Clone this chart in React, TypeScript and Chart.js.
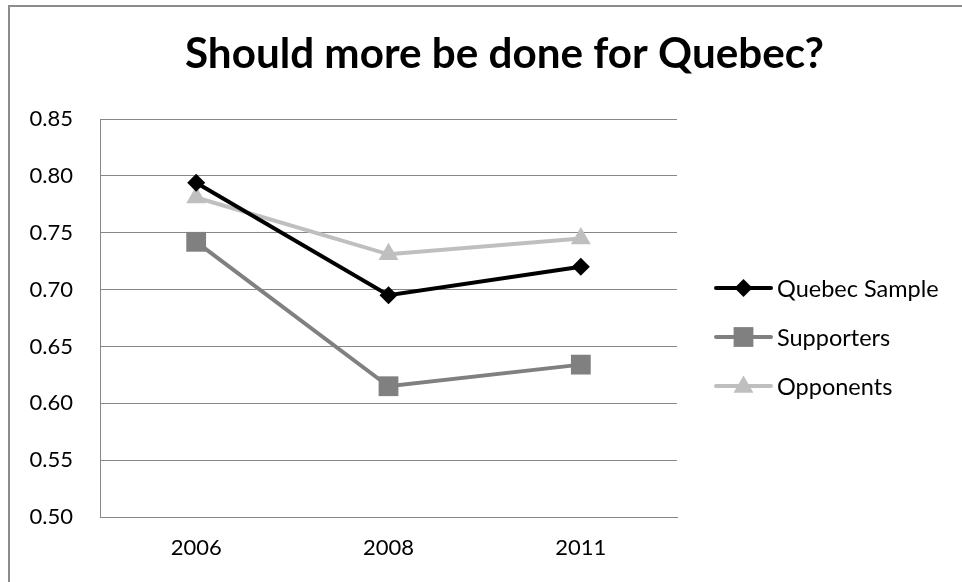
import { useEffect, useRef } from "react";
import { Chart, registerables } from "chart.js";

Chart.register(...registerables);

// Survey years and mean scores per group
const years = ["2006", "2008", "2011"];
const quebecSample = [0.794, 0.695, 0.72];
const supporters = [0.742, 0.615, 0.634];
const opponents = [0.781, 0.731, 0.745];
const seriesNames = ["Quebec Sample", "Supporters", "Opponents"];
const chartTitle = "Should more be done for Quebec?";

const FONT = "Lato, 'Open Sans', sans-serif";
const GRID = "#878787";

type Marker = "rectRot" | "rect" | "triangle";

function drawMarker(ctx: CanvasRenderingContext2D, style: Marker, x: number, y: number, r: number, color: string) {
  ctx.save();
  ctx.fillStyle = color;
  ctx.beginPath();
  if (style === "rectRot") {
    ctx.moveTo(x - r, y);
    ctx.lineTo(x, y - r);
    ctx.lineTo(x + r, y);
    ctx.lineTo(x, y + r);
  } else if (style === "rect") {
    const s = r * Math.SQRT1_2;
    ctx.rect(x - s, y - s, 2 * s, 2 * s);
  } else {
    ctx.moveTo(x, y - r);
    ctx.lineTo(x + r * 0.866, y + r * 0.5);
    ctx.lineTo(x - r * 0.866, y + r * 0.5);
  }
  ctx.closePath();
  ctx.fill();
  ctx.restore();
}

// Frame, title and the right-hand legend drawn on the canvas
const decorations = {
  id: "decorations",
  beforeDraw(chart: any) {
    const ctx = chart.ctx as CanvasRenderingContext2D;
    ctx.save();
    ctx.fillStyle = "#ffffff";
    ctx.fillRect(0, 0, chart.width, chart.height);
    ctx.strokeStyle = "#8c8c8c";
    ctx.lineWidth = 2;
    ctx.beginPath();
    ctx.moveTo(9, chart.height);
    ctx.lineTo(9, 6);
    ctx.lineTo(chart.width, 6);
    ctx.stroke();
    ctx.restore();
  },
  afterDraw(chart: any) {
    const ctx = chart.ctx as CanvasRenderingContext2D;
    const area = chart.chartArea;
    ctx.save();
    // title, sized to span its line
    let size = 36;
    ctx.font = `bold ${size}px ${FONT}`;
    const w = ctx.measureText(chartTitle).width;
    size = (size * 639) / w;
    ctx.font = `bold ${size}px ${FONT}`;
    ctx.fillStyle = "#000";
    ctx.textAlign = "left";
    ctx.textBaseline = "alphabetic";
    ctx.fillText(chartTitle, 185, 68);

    // legend
    const rows = [288, 337, 386];
    ctx.font = `23.5px ${FONT}`;
    ctx.textBaseline = "middle";
    chart.data.datasets.forEach((ds: any, i: number) => {
      const y = rows[i];
      const x0 = area.right + 39;
      const x1 = area.right + 94;
      ctx.strokeStyle = ds.borderColor;
      ctx.lineWidth = 4;
      ctx.lineCap = "round";
      ctx.beginPath();
      ctx.moveTo(x0, y);
      ctx.lineTo(x1, y);
      ctx.stroke();
      drawMarker(ctx, ds.pointStyle, (x0 + x1) / 2, ds.pointStyle === "triangle" ? y + 1 : y, ds.pointRadius, ds.borderColor);
      ctx.fillStyle = "#000";
      ctx.fillText(ds.label, area.right + 100, y + 1);
    });
    ctx.restore();
  },
};

export default function App() {
  const ref = useRef<HTMLCanvasElement | null>(null);

  useEffect(() => {
    if (!ref.current) return;
    const chart = new Chart(ref.current, {
      type: "line",
      data: {
        labels: years,
        datasets: [
          {
            label: seriesNames[0],
            data: quebecSample,
            borderColor: "#000000",
            backgroundColor: "#000000",
            borderWidth: 4,
            pointStyle: "rectRot",
            pointRadius: 9,
            pointBorderWidth: 0,
            tension: 0,
          },
          {
            label: seriesNames[1],
            data: supporters,
            borderColor: "#808080",
            backgroundColor: "#808080",
            borderWidth: 4,
            pointStyle: "rect",
            pointRadius: 14,
            pointBorderWidth: 0,
            tension: 0,
          },
          {
            label: seriesNames[2],
            data: opponents,
            borderColor: "#bfbfbf",
            backgroundColor: "#bfbfbf",
            borderWidth: 4,
            pointStyle: "triangle",
            pointRadius: 11.5,
            pointBorderWidth: 0,
            tension: 0,
          },
        ],
      },
      options: {
        animation: false,
        responsive: false,
        devicePixelRatio: 1,
        layout: { padding: { left: 0, top: 119, right: 285, bottom: 0 } },
        plugins: {
          legend: { display: false },
          title: { display: false },
          tooltip: { enabled: false },
        },
        scales: {
          x: {
            offset: true,
            grid: { display: false, drawTicks: false, offset: true },
            border: { display: true, color: GRID, width: 1 },
            afterFit: (s: any) => {
              s.height = 65;
            },
            ticks: {
              color: "#000",
              font: { family: FONT, size: 22 },
              padding: 18,
            },
          },
          y: {
            min: 0.5,
            max: 0.85,
            afterFit: (s: any) => {
              s.width = 100;
            },
            grid: { color: GRID, lineWidth: 1, drawTicks: false },
            border: { display: true, color: GRID, width: 1 },
            ticks: {
              stepSize: 0.05,
              color: "#000",
              font: { family: FONT, size: 22 },
              padding: 27,
              callback: (v: any) => Number(v).toFixed(2),
            },
          },
        },
      },
      plugins: [decorations],
    });
    return () => chart.destroy();
  }, []);

  return (
    <div style={{ position: "fixed", left: 0, top: 0, width: 962, height: 582, background: "#fff" }}>
      <canvas ref={ref} width={962} height={582} style={{ display: "block", width: 962, height: 582 }} />
    </div>
  );
}
